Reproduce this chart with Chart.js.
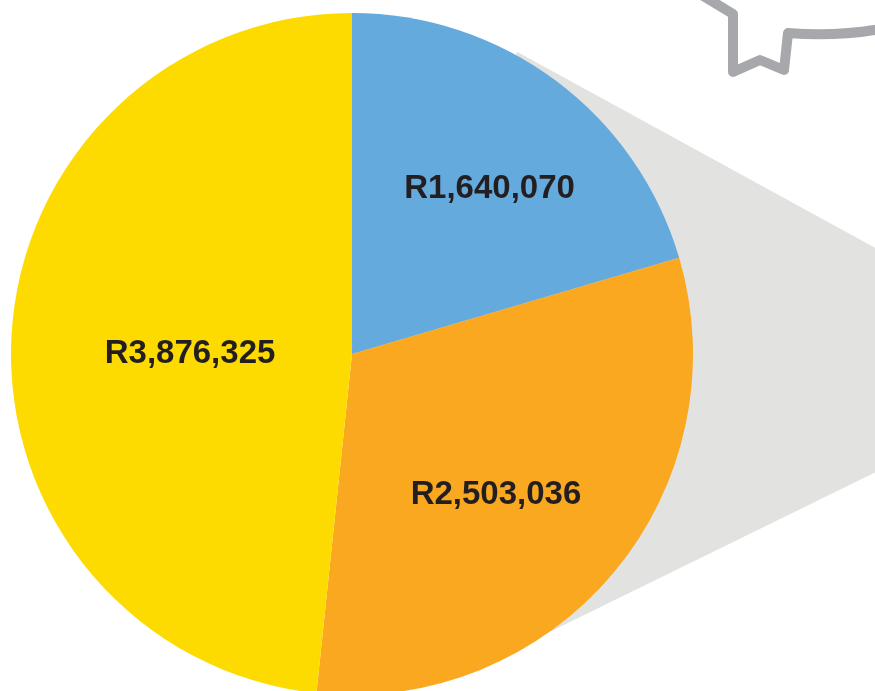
<!DOCTYPE html>
<html>
<head>
<meta charset="utf-8">
<script src="https://cdn.jsdelivr.net/npm/chart.js@4/dist/chart.umd.min.js"></script>
<style>
  html, body { margin:0; padding:0; background:#fff; overflow:hidden; }
  #wrap { width:875px; height:697px; }
</style>
</head>
<body>
<div id="wrap"><canvas id="pie-chart" width="875" height="697"></canvas></div>
<script>
// slices, clockwise from 12 o'clock
var categories = ['Blue', 'Orange', 'Yellow'];
var amounts = [1640070, 2503036, 3876325];
var sliceLabels = ['R1,640,070', 'R2,503,036', 'R3,876,325'];
var sliceColors = ['#65aadd', '#f9a81f', '#fedb00'];

// where each label sits: fraction of radius, and nudge of angle (degrees)
var labelRadius = [0.63, 0.59, 0.475];
var labelNudge = [3, 4.5, -3];

// grey "zoom" cone behind the pie, drawn from the pie's own centre and radius
var conePlugin = {
  id: 'cone',
  beforeDatasetsDraw: function(chart){
    var arc = chart.getDatasetMeta(0).data[0];
    if(!arc) return;
    var cx = arc.x, cy = arc.y, r = arc.outerRadius;
    var ctx = chart.ctx;
    var W = chart.width;
    // tangent points (angles measured in canvas radians)
    var a1 = -61.3 * Math.PI/180, a2 = 63.9 * Math.PI/180;
    var d1 = r * 1.01, d2 = r * 0.987;
    var p1 = {x: cx + d1*Math.cos(a1), y: cy + d1*Math.sin(a1)};
    var p2 = {x: cx + d2*Math.cos(a2), y: cy + d2*Math.sin(a2)};
    var s1 = Math.tan(a1 + Math.PI/2), s2 = Math.tan(a2 - Math.PI/2);
    ctx.save();
    ctx.fillStyle = '#e2e2e1';
    ctx.beginPath();
    ctx.moveTo(cx, cy);
    ctx.lineTo(p1.x, p1.y);
    ctx.lineTo(W + 5, p1.y + s1*(W + 5 - p1.x));
    ctx.lineTo(W + 5, p2.y + s2*(W + 5 - p2.x));
    ctx.lineTo(p2.x, p2.y);
    ctx.closePath();
    ctx.fill();

    // speech bubble outline in the top right corner
    ctx.strokeStyle = '#a7a8ab';
    ctx.lineWidth = 10;
    ctx.lineJoin = 'round';
    ctx.lineCap = 'round';
    ctx.beginPath();
    ctx.moveTo(700, -6);
    ctx.lineTo(733, 14);
    ctx.lineTo(733, 72);
    ctx.lineTo(760, 60);
    ctx.lineTo(784, 70);
    ctx.lineTo(788, 33);
    ctx.quadraticCurveTo(840, 37, 885, 28);
    ctx.stroke();
    ctx.restore();
  }
};

var labelPlugin = {
  id: 'sliceText',
  afterDatasetsDraw: function(chart){
    var ctx = chart.ctx;
    var meta = chart.getDatasetMeta(0);
    ctx.save();
    ctx.fillStyle = '#231f20';
    ctx.font = 'bold 33px "Liberation Sans", Arial, sans-serif';
    ctx.textAlign = 'center';
    ctx.textBaseline = 'middle';
    meta.data.forEach(function(el, i){
      var mid = (el.startAngle + el.endAngle)/2 + labelNudge[i]*Math.PI/180;
      var rr = el.outerRadius * labelRadius[i];
      ctx.fillText(sliceLabels[i], el.x + rr*Math.cos(mid), el.y + rr*Math.sin(mid));
    });
    ctx.restore();
  }
};

var ctx = document.getElementById('pie-chart').getContext('2d');
new Chart(ctx, {
  type: 'pie',
  data: {
    labels: categories,
    datasets: [{
      data: amounts,
      backgroundColor: sliceColors,
      borderWidth: 0
    }]
  },
  options: {
    responsive: false,
    devicePixelRatio: 1,
    animation: false,
    layout: { padding: { left: 11, right: 182, top: 13, bottom: 2 } },
    plugins: {
      legend: { display: false },
      tooltip: { enabled: false }
    }
  },
  plugins: [conePlugin, labelPlugin]
});
</script>
</body>
</html>
